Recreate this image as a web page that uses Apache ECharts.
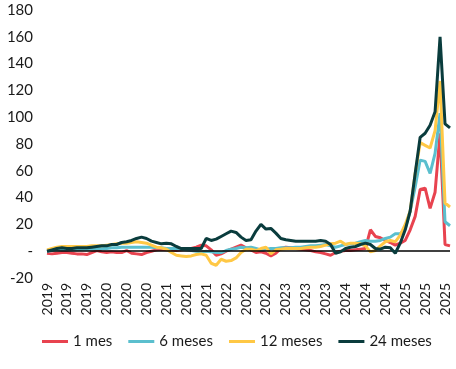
<!DOCTYPE html>
<html>
<head>
<meta charset="utf-8">
<script src="https://cdn.jsdelivr.net/npm/echarts@6/dist/echarts.min.js"></script>
<style>html,body{margin:0;padding:0;background:#fff;}#c{width:456px;height:369px;}</style>
</head>
<body>
<div id="c"></div>
<script>
const months = [
 '2019-01','2019-02','2019-03','2019-04','2019-05','2019-06','2019-07','2019-08','2019-09','2019-10','2019-11','2019-12',
 '2020-01','2020-02','2020-03','2020-04','2020-05','2020-06','2020-07','2020-08','2020-09','2020-10','2020-11','2020-12',
 '2021-01','2021-02','2021-03','2021-04','2021-05','2021-06','2021-07','2021-08','2021-09','2021-10','2021-11','2021-12',
 '2022-01','2022-02','2022-03','2022-04','2022-05','2022-06','2022-07','2022-08','2022-09','2022-10','2022-11','2022-12',
 '2023-01','2023-02','2023-03','2023-04','2023-05','2023-06','2023-07','2023-08','2023-09','2023-10','2023-11','2023-12',
 '2024-01','2024-02','2024-03','2024-04','2024-05','2024-06','2024-07','2024-08','2024-09','2024-10','2024-11','2024-12',
 '2025-01','2025-02','2025-03','2025-04','2025-05','2025-06','2025-07','2025-08','2025-09','2025-10'
];
const seriesNames = ['1 mes', '6 meses', '12 meses', '24 meses'];
const mes1 = [
 -1.5,-2,-1.5,-1,-1,-1.5,-2,-2,-2.5,-1,0.5,-0.5,
 -1,-0.5,-1,-1,0.5,-1.5,-2,-2.5,-1,0,1,1.5,
 1,1,0.5,1,1.5,2,3,4.5,4,1,-3,-2,
 0,1.5,3,4.5,2.5,1,-1,-0.5,-1.5,-3.5,-1.5,2,
 3,2.5,2,1.5,1,0.5,-0.5,-1,-2,-3,-1,0,
 0.5,0.5,1,1.5,2,16,11,10,8,6.5,4.5,6,
 8,16,26,46,47,32,44,88,5,4
];
const meses6 = [
 0,0.5,1,1,1,1,1,1.5,1.5,1.5,2,2,
 2,2.5,2.5,3,3,3,3,3,3,3,2.5,2.5,
 2,2,2,1.5,1,0.5,0,-0.5,0,-0.5,-1,-1,
 0.5,1.5,2,3,2.5,3,2,1,1.5,2,2,2.5,
 2.5,2.5,3,3,3.5,4,4,4.5,5,4,3,4,
 5,5.5,6,7,8,7.5,7.5,8,9.5,10.5,13,13,
 17,30,48,68,67,58,73,103,22,19
];
const meses12 = [
 1,2,3,3.5,3.5,3.5,3.5,3.5,3.5,4,4,4,
 4.5,5,5.5,6,6,6.5,7,6.5,6,4.5,3,2.5,
 1.5,-1,-3,-3.5,-4,-3.5,-2.5,-2,-3,-9,-10.5,-6,
 -7.5,-7,-5,-1,1.5,1.5,0.5,2,3,-2,1,1.5,
 2,2,2,2,2.5,3,3,3.5,4.5,5.5,6,7.5,
 5,6,6,5.5,4,-0.5,0.5,4,7,8,7,12,
 20,30,58,81,79,77,90,127,36,33
];
const meses24 = [
 0,1,2,2.5,2,2,2.5,2.5,2.5,3,3.5,4,
 4,5,5,6.5,7,8,9.5,10.5,9.5,7.5,6.5,5.5,
 6,5.5,3.5,2,2,2,2,2,9.5,8,9,11,
 13,15,14,10.5,8,8.5,15,20,16.5,17,13.5,9.5,
 8.5,8,7.5,7.5,7.5,7.5,7.5,8,7.5,5,-1.5,-0.5,
 2,3,3.5,5,6,5,2,1.5,3,2.5,-1.5,6,
 16,30,58,85,88,94,104,160,95,92
];
const colors = ['#E8434F', '#5BBFCE', '#FFC845', '#0A3C3D'];
const yTicks = {min: -20, max: 180, interval: 20};

const chart = echarts.init(document.getElementById('c'), null, {renderer: 'canvas'});
const font = 'Lato';
const dataSets = [mes1, meses6, meses12, meses24];
const series = dataSets.map((d, k) => {
  const s = {
    name: seriesNames[k], type: 'line', data: d, symbol: 'none', smooth: false,
    lineStyle: {width: 3, color: colors[k]}, itemStyle: {color: colors[k]}, z: 2 + k
  };
  if (k === 0) {
    s.markLine = {
      silent: true, symbol: 'none', label: {show: false},
      lineStyle: {color: '#000', width: 1.5, type: 'solid'},
      data: [{yAxis: 0}]
    };
  }
  return s;
});
chart.setOption({
  animation: false,
  backgroundColor: '#fff',
  textStyle: {fontFamily: font},
  grid: {left: 47, right: 6, top: 10, bottom: 91, containLabel: false},
  legend: {
    data: seriesNames, left: 37, top: 329, icon: 'rect', itemWidth: 26, itemHeight: 3, itemGap: 16,
    textStyle: {fontFamily: font, fontSize: 15, color: '#1a1a1a'}
  },
  xAxis: {
    type: 'category', data: months, boundaryGap: false,
    axisLine: {show: false}, axisTick: {show: false}, splitLine: {show: false},
    axisLabel: {
      interval: 3, rotate: 90, margin: 5, fontSize: 14, color: '#1a1a1a', fontFamily: font,
      formatter: v => v.slice(0, 4)
    }
  },
  yAxis: {
    type: 'value', min: yTicks.min, max: yTicks.max, interval: yTicks.interval,
    axisLine: {show: false}, axisTick: {show: false}, splitLine: {show: false},
    axisLabel: {
      margin: 14, fontSize: 15, color: '#1a1a1a', fontFamily: font,
      formatter: v => (v === 0 ? '-' : String(v))
    }
  },
  series: series
});
</script>
</body>
</html>
